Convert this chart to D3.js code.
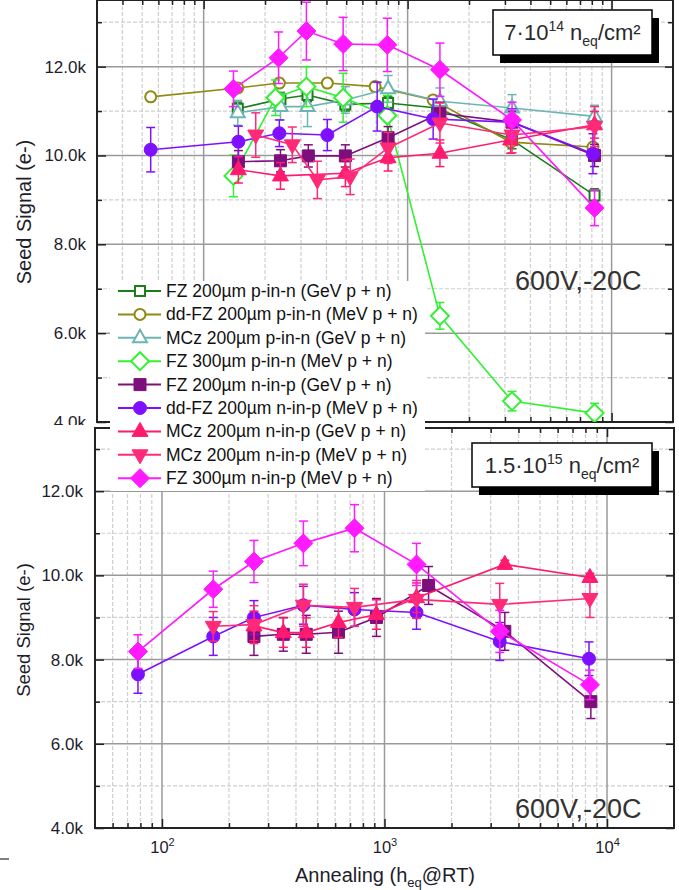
<!DOCTYPE html>
<html><head><meta charset="utf-8">
<script src="https://cdn.jsdelivr.net/npm/d3@7"></script>
<style>body{margin:0;background:#fff;} svg{display:block;font-family:"Liberation Sans",Arial,sans-serif;}</style>
</head><body><svg id="c" width="679" height="890"></svg>
<script>
// ---------- legend / series metadata ----------
const legendLabels = [
  "FZ 200\u00b5m p-in-n (GeV p + n)",
  "dd-FZ 200\u00b5m p-in-n (MeV p + n)",
  "MCz 200\u00b5m p-in-n (GeV p + n)",
  "FZ 300\u00b5m p-in-n (MeV p + n)",
  "FZ 200\u00b5m n-in-p (GeV p + n)",
  "dd-FZ 200\u00b5m n-in-p (MeV p + n)",
  "MCz 200\u00b5m n-in-p (GeV p + n)",
  "MCz 200\u00b5m n-in-p (MeV p + n)",
  "FZ 300\u00b5m n-in-p (MeV p + n)"
];
const seriesColors = ["#1c7d1c","#8f8a12","#6db5b5","#33f033","#7d0f7d","#7f10ff","#ff1a70","#ff2a78","#ff1aff"];
const seriesShapes = ["square","circle","triangle","diamond","square","circle","triangle","triangleDown","diamond"];
const seriesFilled = [false,false,false,false,true,true,true,true,true];

// ---------- top panel: 7e14 neq/cm2 ----------
const t1x = [147,238,323,495,802,1393,3250,8250], t1y = [11.05,11.27,11.36,11.15,11.18,11.07,10.35,9.1], t1e = [0.15,0.15,0.15,0.15,0.15,0.15,0.2,0.15];
const t2x = [55,147,235,404,693,1334,3200,8100],  t2y = [11.32,11.52,11.63,11.63,11.55,11.25,10.3,10.19], t2e = [0.08,0.08,0.08,0.08,0.08,0.08,0.08,0.08];
const t3x = [147,238,323,495,802,1440,3250,8250], t3y = [10.96,11.1,11.1,11.25,11.5,11.22,11.07,10.88], t3e = [0.28,0.3,0.45,0.3,0.3,0.3,0.3,0.25];
const t4x = [140,225,319,483,795,1440,3250,8250], t4y = [9.54,11.3,11.55,11.3,10.9,6.39,4.47,4.2], t4e = [0.47,0.4,0.45,0.55,0.45,0.3,0.22,0.22];
const t5x = [148,238,326,495,802,1440,3250,8250], t5y = [9.86,9.88,9.99,9.99,10.4,10.95,10.75,10.0], t5e = [0.25,0.25,0.25,0.25,0.25,0.25,0.25,0.25];
const t6x = [55,148,235,404,709,1334,3250,8100],  t6y = [10.13,10.31,10.5,10.46,11.1,10.82,10.75,10.04], t6e = [0.5,0.35,0.3,0.35,0.55,0.45,0.3,0.45];
const t7x = [148,238,495,802,1440,3200,8250],     t7y = [9.68,9.54,9.6,9.95,10.05,10.35,10.69], t7e = [0.3,0.3,0.3,0.3,0.3,0.3,0.3];
const t8x = [180,272,361,523,802,1440,3250,8250], t8y = [10.46,10.24,9.45,9.52,10.17,10.73,10.46,10.65], t8e = [0.5,0.4,0.42,0.4,0.35,0.45,0.4,0.45];
const t9x = [140,233,319,483,795,1440,3250,8250], t9y = [11.5,12.2,12.8,12.51,12.49,11.93,10.8,8.82], t9e = [0.4,0.58,0.65,0.6,0.6,0.6,0.4,0.4];

// ---------- bottom panel: 1.5e15 neq/cm2 ----------
const b5x = [259,351,445,621,920,1578,3473,8460], b5y = [8.55,8.6,8.6,8.65,9.0,9.76,8.67,7.0], b5e = [0.45,0.4,0.45,0.5,0.45,0.45,0.45,0.4];
const b6x = [78,170,259,432,733,1393,3296,8300],  b6y = [7.65,8.55,9.0,9.29,9.19,9.12,8.43,8.02], b6e = [0.45,0.45,0.4,0.45,0.4,0.4,0.45,0.4];
const b7x = [259,351,445,621,920,1393,3473,8380], b7y = [8.8,8.64,8.64,8.88,9.07,9.47,10.26,9.95], b7e = [0.35,0.35,0.35,0.35,0.35,0.35,0.1,0.1];
const b8x = [170,259,432,733,1393,3296,8380],     b8y = [8.79,8.83,9.29,9.24,9.43,9.31,9.45], b8e = [0.35,0.45,0.5,0.45,0.45,0.5,0.45];
const b9x = [78,170,259,432,733,1393,3296,8380],  b9y = [8.19,9.67,10.33,10.76,11.12,10.26,8.67,7.4], b9e = [0.4,0.43,0.5,0.53,0.56,0.5,0.5,0.35];

// ---------- axes ----------
const yDomain = [4, 13.5];
const yMajor = [4, 6, 8, 10, 12];
const yMinor = [5, 7, 9, 11, 13];
const xMajor = [100, 1000, 10000];
const xTickExp = ["2", "3", "4"];

const svg = d3.select("#c");

function mk(xs, ys, es) { return xs.map((v, i) => ({x: v, y: ys[i], e: es[i]})); }

const topSeries = [
  {i:0, d: mk(t1x,t1y,t1e)}, {i:1, d: mk(t2x,t2y,t2e)}, {i:2, d: mk(t3x,t3y,t3e)},
  {i:3, d: mk(t4x,t4y,t4e)}, {i:4, d: mk(t5x,t5y,t5e)}, {i:5, d: mk(t6x,t6y,t6e)},
  {i:6, d: mk(t7x,t7y,t7e)}, {i:7, d: mk(t8x,t8y,t8e)}, {i:8, d: mk(t9x,t9y,t9e)}
];
const botSeries = [
  {i:4, d: mk(b5x,b5y,b5e)}, {i:5, d: mk(b6x,b6y,b6e)}, {i:6, d: mk(b7x,b7y,b7e)},
  {i:7, d: mk(b8x,b8y,b8e)}, {i:8, d: mk(b9x,b9y,b9e)}
];

function markerPath(shape, filled) {
  if (shape === "square") { const h = filled ? 6 : 5; return `M${-h},${-h}h${2*h}v${2*h}h${-2*h}Z`; }
  if (shape === "circle") { const r = filled ? 6.5 : 5.5; return `M${r},0A${r},${r} 0 1,1 ${-r},0A${r},${r} 0 1,1 ${r},0Z`; }
  if (shape === "triangle") { return filled ? "M0,-9L8,5L-8,5Z" : "M0,-8L7,4.5L-7,4.5Z"; }
  if (shape === "triangleDown") { return "M0,9L8,-5L-8,-5Z"; }
  if (shape === "diamond") { const h = filled ? 9.5 : 9; return `M0,${-h}L${h},0L0,${h}L${-h},0Z`; }
}

function drawMarker(g, i, cx, cy) {
  const c = seriesColors[i];
  g.append("path").attr("d", markerPath(seriesShapes[i], seriesFilled[i]))
    .attr("transform", `translate(${cx},${cy})`)
    .attr("fill", seriesFilled[i] ? c : "#fff")
    .attr("stroke", c).attr("stroke-width", seriesFilled[i] ? 1 : 2);
}

function drawPanel(P) {
  const x = d3.scaleLog().domain(P.xDomain).range(P.xRange);
  const y = d3.scaleLinear().domain(yDomain).range(P.yRange);
  const L = P.xRange[0], R = P.xRange[1], T = P.yRange[1], B = P.yRange[0];
  const g = svg.append("g");
  if (P.bgTop !== undefined) g.append("rect").attr("x", 0).attr("y", P.bgTop).attr("width", 679).attr("height", 890 - P.bgTop).attr("fill", "#fff");

  const xMinor = [];
  for (let e = 1; e <= 4; e++) for (let k = 2; k <= 9; k++) { const v = k * Math.pow(10, e); if (v > P.xDomain[0] * 1.01 && v < P.xDomain[1] * 0.99) xMinor.push(v); }

  // grid
  const grid = g.append("g");
  grid.selectAll(".vm").data(xMinor).join("line").attr("x1", d => x(d)).attr("x2", d => x(d)).attr("y1", T).attr("y2", B)
    .attr("stroke", "#cfcfcf").attr("stroke-width", 1.2).attr("stroke-dasharray", "4,2");
  grid.selectAll(".hm").data(yMinor).join("line").attr("x1", L).attr("x2", R).attr("y1", d => y(d)).attr("y2", d => y(d))
    .attr("stroke", "#cfcfcf").attr("stroke-width", 1.2).attr("stroke-dasharray", "4,2");
  grid.selectAll(".vM").data(xMajor).join("line").attr("x1", d => x(d)).attr("x2", d => x(d)).attr("y1", T).attr("y2", B)
    .attr("stroke", "#9a9a9a").attr("stroke-width", 1.5);
  grid.selectAll(".hM").data(yMajor.slice(1)).join("line").attr("x1", L).attr("x2", R).attr("y1", d => y(d)).attr("y2", d => y(d))
    .attr("stroke", "#9a9a9a").attr("stroke-width", 1.5);

  // axes ticks (inward) via d3 axes
  const axStyle = sel => { sel.select(".domain").remove(); sel.selectAll(".tick line").attr("stroke", "#222").attr("stroke-width", 1.5); };
  g.append("g").attr("transform", `translate(0,${B})`).call(d3.axisBottom(x).tickValues(xMajor).tickSize(-9).tickFormat("")).call(axStyle);
  g.append("g").attr("transform", `translate(0,${B})`).call(d3.axisBottom(x).tickValues(xMinor).tickSize(-5).tickFormat("")).call(axStyle);
  g.append("g").attr("transform", `translate(0,${T})`).call(d3.axisTop(x).tickValues(xMajor).tickSize(-9).tickFormat("")).call(axStyle);
  g.append("g").attr("transform", `translate(0,${T})`).call(d3.axisTop(x).tickValues(xMinor).tickSize(-5).tickFormat("")).call(axStyle);
  g.append("g").attr("transform", `translate(${R},0)`).call(d3.axisRight(y).tickValues(yMajor).tickSize(-8).tickFormat("")).call(axStyle);
  g.append("g").attr("transform", `translate(${R},0)`).call(d3.axisRight(y).tickValues(yMinor).tickSize(-5).tickFormat("")).call(axStyle);
  g.append("g").attr("transform", `translate(${L},0)`).call(d3.axisLeft(y).tickValues(yMinor).tickSize(-5).tickFormat("")).call(axStyle);
  const yl = g.append("g").attr("transform", `translate(${L},0)`)
    .call(d3.axisLeft(y).tickValues(yMajor).tickSize(-9).tickPadding(P.yPad).tickFormat(d => d.toFixed(1) + "k")).call(axStyle);
  yl.selectAll("text").attr("font-size", 17).attr("fill", "#1d1d2b").attr("font-family", "Liberation Sans, Arial, sans-serif");

  if (P.xLabels) {
    const xl = g.append("g").attr("transform", `translate(0,${B})`)
      .call(d3.axisBottom(x).tickValues(xMajor).tickSize(0).tickPadding(14).tickFormat(""));
    xl.select(".domain").remove();
    xl.selectAll(".tick").each(function(d, k) {
      const t = d3.select(this).append("text").attr("y", 25).attr("text-anchor", "middle")
        .attr("fill", "#1d1d2b").attr("font-size", 16.5).attr("font-family", "Liberation Sans, Arial, sans-serif");
      t.append("tspan").text("10");
      t.append("tspan").attr("dy", -7).attr("font-size", 11).text(xTickExp[k]);
    });
  }

  // frame
  g.append("rect").attr("x", L).attr("y", T).attr("width", R - L).attr("height", B - T)
    .attr("fill", "none").attr("stroke", "#222").attr("stroke-width", 2);

  // data
  const clipId = "clip" + P.id;
  g.append("clipPath").attr("id", clipId).append("rect").attr("x", L).attr("y", T).attr("width", R - L).attr("height", B - T);
  const dg = g.append("g").attr("clip-path", `url(#${clipId})`);
  const line = d3.line().x(d => x(d.x)).y(d => y(d.y));
  P.series.forEach(s => {
    const c = seriesColors[s.i];
    const sg = dg.append("g");
    sg.append("path").attr("d", line(s.d)).attr("fill", "none").attr("stroke", c).attr("stroke-width", 1.6);
    s.d.forEach(p => {
      const px = x(p.x), y1 = y(p.y + p.e), y2 = y(p.y - p.e);
      sg.append("line").attr("x1", px).attr("x2", px).attr("y1", y1).attr("y2", y2).attr("stroke", c).attr("stroke-width", 1.5);
      sg.append("line").attr("x1", px - 4.5).attr("x2", px + 4.5).attr("y1", y1).attr("y2", y1).attr("stroke", c).attr("stroke-width", 1.5);
      sg.append("line").attr("x1", px - 4.5).attr("x2", px + 4.5).attr("y1", y2).attr("y2", y2).attr("stroke", c).attr("stroke-width", 1.5);
    });
    s.d.forEach(p => drawMarker(sg, s.i, x(p.x), y(p.y)));
  });

  // fluence box
  const bx = P.box;
  g.append("rect").attr("x", bx.x + 7).attr("y", bx.y + 8).attr("width", bx.w).attr("height", bx.h).attr("fill", "#000");
  g.append("rect").attr("x", bx.x).attr("y", bx.y).attr("width", bx.w).attr("height", bx.h).attr("fill", "#fff").attr("stroke", "#000").attr("stroke-width", 1.5);
  const bt = g.append("text").attr("x", bx.x + bx.w / 2).attr("y", bx.y + 30).attr("text-anchor", "middle")
    .attr("font-size", 22).attr("fill", "#2a2a2a");
  bt.append("tspan").text(bx.pre);
  bt.append("tspan").attr("dy", -9).attr("font-size", 14).text(bx.exp);
  bt.append("tspan").attr("dy", 9).attr("font-size", 22).text(" n");
  bt.append("tspan").attr("dy", 6).attr("font-size", 14).text("eq");
  bt.append("tspan").attr("dy", -6).attr("font-size", 22).text("/cm\u00b2");

  // bias text
  g.append("text").attr("x", 515).attr("y", P.biasY).attr("font-size", 27).attr("fill", "#333").text("600V,-20C");

  // y label
  g.append("text").attr("transform", `translate(${P.ylabX},${P.ylabY}) rotate(-90)`).attr("text-anchor", "middle")
    .attr("font-size", P.ylabSize).attr("fill", "#1d1d2b").text("Seed Signal (e-)");
}

drawPanel({id: "t", xDomain: [30, 20000], xRange: [97, 673], yRange: [422, 0], yPad: 11, xLabels: false,
  series: topSeries, box: {x: 493, y: 10, w: 159, h: 45, pre: "7\u00b710", exp: "14"}, biasY: 290,
  ylabX: 31, ylabY: 212, ylabSize: 20});
drawPanel({id: "b", xDomain: [50, 20000], xRange: [95, 674], yRange: [828, 428], yPad: 12, xLabels: true, bgTop: 425,
  series: botSeries, box: {x: 472, y: 443, w: 180, h: 44, pre: "1.5\u00b710", exp: "15"}, biasY: 818,
  ylabX: 30, ylabY: 630, ylabSize: 18.5});

// x label
const xt = svg.append("text").attr("x", 385).attr("y", 882).attr("text-anchor", "middle").attr("font-size", 20).attr("fill", "#1d1d2b");
xt.append("tspan").text("Annealing (h");
xt.append("tspan").attr("dy", 5).attr("font-size", 13).text("eq");
xt.append("tspan").attr("dy", -5).attr("font-size", 20).text("@RT)");

// stray dash at bottom-left
svg.append("line").attr("x1", 0).attr("x2", 9).attr("y1", 859).attr("y2", 859).attr("stroke", "#555").attr("stroke-width", 1.5);

// legend
const lg = svg.append("g");
lg.append("rect").attr("x", 110).attr("y", 281).attr("width", 315).attr("height", 210).attr("fill", "#fff");
legendLabels.forEach((lab, i) => {
  const yy = 291 + i * 23.4;
  lg.append("line").attr("x1", 118).attr("x2", 161).attr("y1", yy).attr("y2", yy).attr("stroke", seriesColors[i]).attr("stroke-width", 2);
  drawMarker(lg, i, 140, yy);
  lg.append("text").attr("x", 166).attr("y", yy + 6).attr("font-size", 17.5).attr("fill", "#111").text(lab);
});
</script></body></html>
